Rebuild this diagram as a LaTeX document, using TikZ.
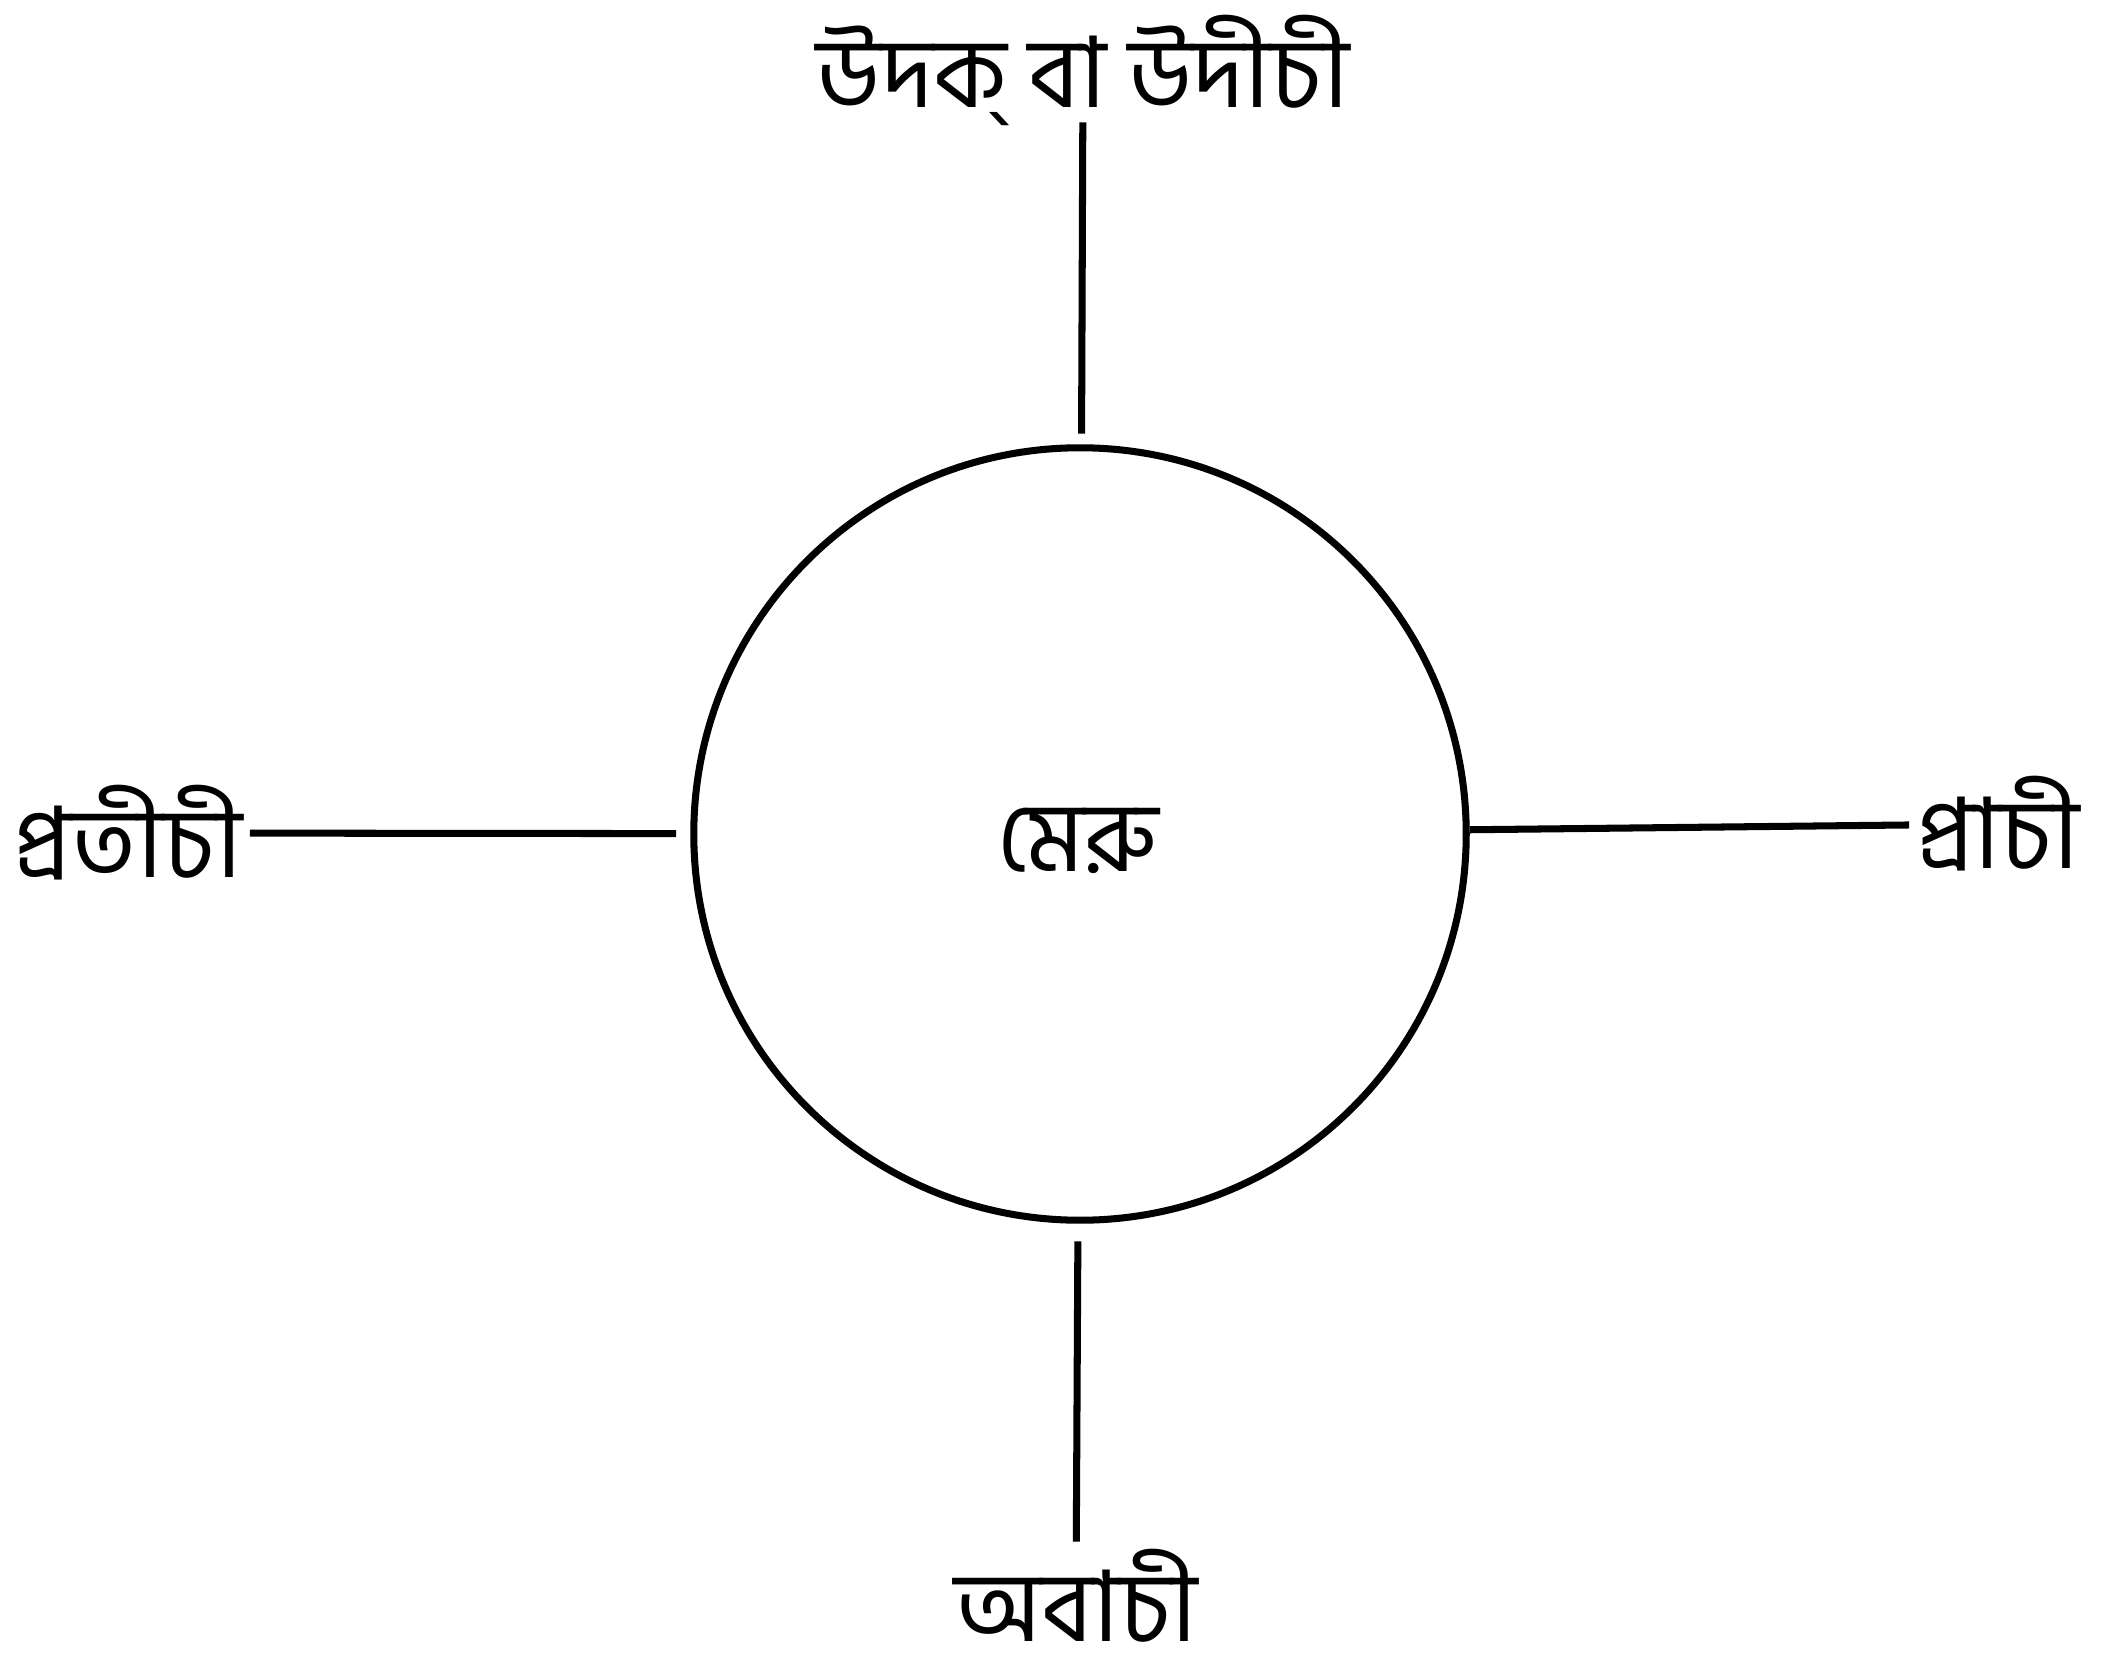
\documentclass[tikz,border=0pt]{standalone}
\usepackage{fontspec}
\newfontfamily\bnfont[Script=Bengali]{Hind Siliguri}

\begin{document}
\begin{tikzpicture}[
  x=0.01cm, y=-0.01cm,
  dirlabel/.style={font=\bnfont\fontsize{28}{34}\selectfont, inner sep=2pt},
  line/.style={line width=2pt}
]
  \useasboundingbox (0,0) rectangle (2109,1667);
  \node[draw, circle, line width=2pt, minimum size=7.72cm, inner sep=0pt] (meru) at (1080,834) {};
  \node[dirlabel] (merulbl) at (1078,841) {মেরু};
  \node[dirlabel] (udak)     at (1083,70)   {উদক্ বা উদীচী};
  \node[dirlabel] (pratichi) at (128,833)   {প্রতীচী};
  \node[dirlabel] (prachi)   at (1998,824)  {প্রাচী};
  \node[dirlabel, inner sep=0pt] (abachi) at (1076,1596) {অবাচী};
  \draw[line, shorten <=-3pt, shorten >=3pt] (udak) -- (meru);
  \draw[line, shorten >=4pt] (pratichi) -- (meru);
  \draw[line] (prachi) -- (meru);
  \draw[line, shorten <=2pt, shorten >=5pt] (abachi) -- (meru);
\end{tikzpicture}
\end{document}
